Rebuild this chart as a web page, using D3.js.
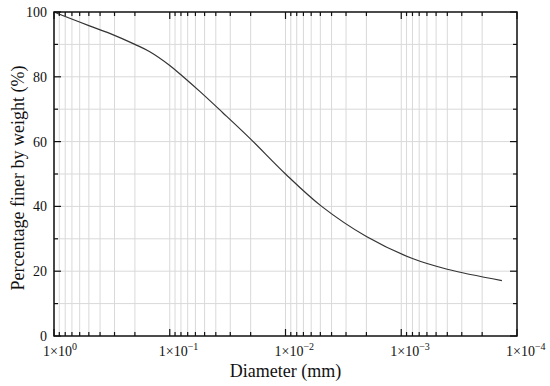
<!DOCTYPE html>
<html>
<head>
<meta charset="utf-8">
<script src="https://cdnjs.cloudflare.com/ajax/libs/d3/7.8.5/d3.min.js"></script>
<style>
  body { margin: 0; background: #fff; }
  text { font-family: "Liberation Serif", "Times New Roman", serif; fill: #111; }
</style>
</head>
<body>
<svg id="chart" width="550" height="386"></svg>
<script>
// grain size distribution
var diameters = [1.0, 0.8, 0.5, 0.33, 0.2, 0.15, 0.1, 0.077, 0.055, 0.035, 0.0203, 0.01, 0.00487, 0.002, 0.0008, 0.0004, 0.000135];
var percentFiner = [100, 98.6, 95.8, 93.4, 90.0, 87.8, 83.5, 80.1, 75.5, 69.0, 61.0, 50.0, 40.0, 30.7, 23.9, 20.6, 17.1];
var xDecades = [0, -1, -2, -3, -4];
var yTicks = [0, 20, 40, 60, 80, 100];

var svg = d3.select("#chart"),
    m = {top: 12, right: 33, bottom: 50, left: 54},
    w = 550 - m.left - m.right, h = 386 - m.top - m.bottom;

var x = d3.scaleLog().domain([1, 1e-4]).range([0, w]),
    y = d3.scaleLinear().domain([0, 100]).range([h, 0]);

var g = svg.append("g").attr("transform", "translate(" + m.left + "," + m.top + ")");

// log positions 2..9 x 10^n between decades
var minor = [];
xDecades.forEach(function (p) {
  if (p > -4) for (var k = 2; k < 10; k++) minor.push(k * Math.pow(10, p - 1));
});
var major = xDecades.map(function (p) { return Math.pow(10, p); });
var yMinor = d3.range(10, 100, 10);

// grid
g.selectAll(".vg").data(minor.concat(major)).enter().append("line")
  .attr("x1", function (d) { return x(d); }).attr("x2", function (d) { return x(d); })
  .attr("y1", 0).attr("y2", h).attr("stroke", "#d9d9d9").attr("stroke-width", 1);
g.selectAll(".hg").data(yMinor).enter().append("line")
  .attr("y1", function (d) { return y(d); }).attr("y2", function (d) { return y(d); })
  .attr("x1", 0).attr("x2", w).attr("stroke", "#d9d9d9").attr("stroke-width", 1);

// curve
var line = d3.line()
  .x(function (d, i) { return x(diameters[i]); })
  .y(function (d) { return y(d); })
  .curve(d3.curveCatmullRom.alpha(0.5));
g.append("path").datum(percentFiner).attr("d", line)
  .attr("fill", "none").attr("stroke", "#333").attr("stroke-width", 1.2);

// frame
g.append("rect").attr("width", w).attr("height", h)
  .attr("fill", "none").attr("stroke", "#111").attr("stroke-width", 1.5);

// inward ticks on all four sides
var tk = g.append("g").attr("stroke", "#111").attr("stroke-width", 1.2);
minor.concat(major).forEach(function (d) {
  var len = major.indexOf(d) >= 0 ? 7 : 4;
  tk.append("line").attr("x1", x(d)).attr("x2", x(d)).attr("y1", h).attr("y2", h - len);
  tk.append("line").attr("x1", x(d)).attr("x2", x(d)).attr("y1", 0).attr("y2", len);
});
d3.range(0, 101, 10).forEach(function (d) {
  var len = d % 20 === 0 ? 7 : 4;
  tk.append("line").attr("y1", y(d)).attr("y2", y(d)).attr("x1", 0).attr("x2", len);
  tk.append("line").attr("y1", y(d)).attr("y2", y(d)).attr("x1", w).attr("x2", w - len);
});

// y tick labels
g.selectAll(".yl").data(yTicks).enter().append("text")
  .attr("x", -7).attr("y", function (d) { return y(d); }).attr("dy", "0.35em")
  .attr("text-anchor", "end").style("font-size", "14px").text(function (d) { return d; });

// x tick labels 1x10^n
xDecades.forEach(function (p) {
  var t = g.append("text").attr("x", x(Math.pow(10, p)) - 11).attr("y", h + 20)
    .style("font-size", "14px");
  t.append("tspan").text("1\u00d710");
  t.append("tspan").attr("dy", -6).style("font-size", "10px").text(p === 0 ? "0" : "\u2212" + (-p));
});

// axis titles
svg.append("text").attr("x", m.left + w / 2).attr("y", 377).attr("text-anchor", "middle")
  .style("font-size", "18px").text("Diameter (mm)");
svg.append("text").attr("transform", "translate(24," + (m.top + h / 2 + 4) + ") rotate(-90)")
  .attr("text-anchor", "middle").style("font-size", "18px").text("Percentage finer by weight (%)");
</script>
</body>
</html>
